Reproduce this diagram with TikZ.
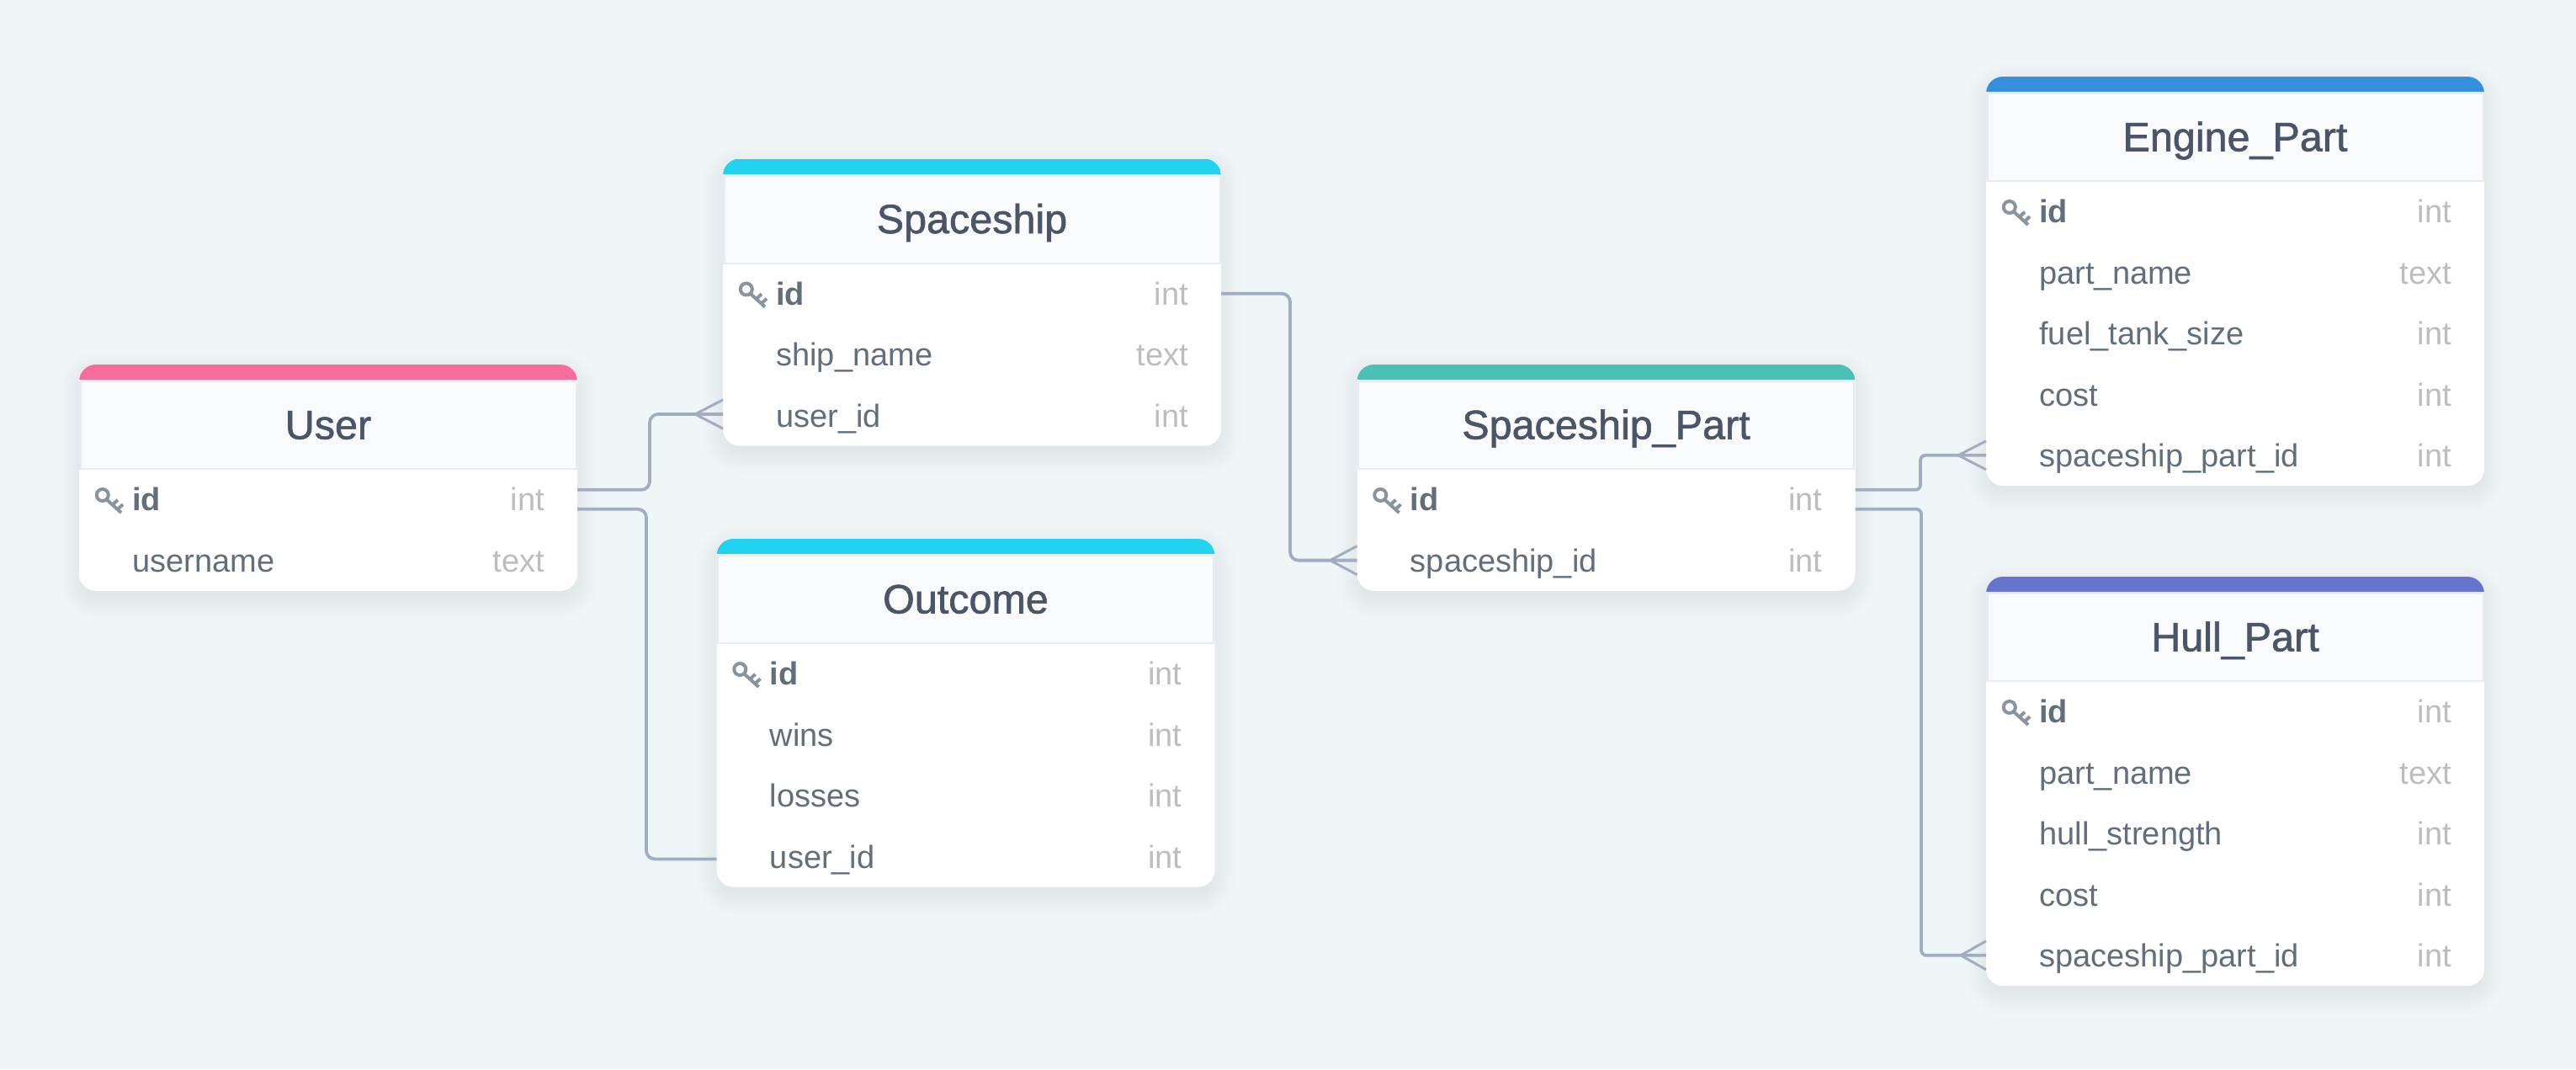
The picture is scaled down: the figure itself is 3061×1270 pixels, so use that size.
\documentclass[tikz,border=0pt]{standalone}
\usepackage{fontspec}
\setmainfont{Liberation Sans}
\newfontfamily\titlefont[FakeBold=1.3]{Liberation Sans}
\newfontfamily\idfont{Liberation Sans Bold}
\usetikzlibrary{calc}
\definecolor{pagebg}{HTML}{F0F5F8}
\definecolor{headbg}{HTML}{F8FAFC}
\definecolor{headline}{HTML}{E7ECF2}
\definecolor{titletxt}{HTML}{4A5568}
\definecolor{rowtxt}{HTML}{606F7B}
\definecolor{typetxt}{HTML}{BDBDBD}
\definecolor{keycol}{HTML}{8795A1}
\definecolor{conncol}{HTML}{A0AEC0}
\definecolor{barpink}{HTML}{F66D9B}
\definecolor{barcyan}{HTML}{22D3EF}
\definecolor{barteal}{HTML}{4DC0B5}
\definecolor{barblue}{HTML}{3490DC}
\definecolor{barindigo}{HTML}{6574CD}
\tikzset{
  cardbox/.style={fill=white,rounded corners=20pt,inner sep=0pt,outer sep=0pt,anchor=north west,minimum width=592pt},
  rowbox/.style={inner sep=0pt,outer sep=0pt,anchor=west,minimum width=592pt,minimum height=72.4pt},
  titletext/.style={inner sep=0pt,anchor=base,text=titletxt,font=\titlefont\fontsize{48.5}{50}\selectfont},
  nametext/.style={inner sep=0pt,anchor=base west,text=rowtxt,font=\fontsize{38}{40}\selectfont},
  idtext/.style={inner sep=0pt,anchor=base west,text=rowtxt,font=\idfont\fontsize{38}{40}\selectfont},
  typetext/.style={inner sep=0pt,anchor=base east,text=typetxt,font=\fontsize{38}{40}\selectfont},
  conn/.style={draw=conncol,line width=3.8pt,rounded corners=10pt},
  connsmall/.style={draw=conncol,line width=3.8pt,rounded corners=6pt},
  crow/.style={draw=conncol,line width=3pt,line join=miter},
  keyline/.style={draw=keycol,line width=4pt}
}
% \erdcard{id}{left}{top}{rows}{colour}{title}
\newcommand{\erdcard}[6]{%
  \pgfmathsetmacro{\cl}{#2}\pgfmathsetmacro{\ct}{#3}%
  \pgfmathsetmacro{\cr}{#2+592}\pgfmathsetmacro{\ch}{124+72.4*#4}%
  \pgfmathsetmacro{\cb}{#3+\ch}%
  \foreach \ex in {24,22,...,-4}{%
    \pgfmathsetmacro{\rr}{20+\ex}%
    \fill[black,opacity=0.0055,rounded corners=\rr pt] ({\cl-\ex},{\ct-\ex+9}) rectangle ({\cr+\ex},{\cb+\ex+9});
  }%
  \node[cardbox,minimum height=\ch pt] (#1) at (\cl,\ct) {};
  \begin{scope}
    \clip[rounded corners=20pt] (\cl,\ct) rectangle (\cr,\cb);
    \fill[headline] (\cl,\ct+18) rectangle (\cr,\ct+125);
    \fill[headbg] (\cl+2.5,\ct+21) rectangle (\cr-2.5,\ct+123);
    \fill[#5] (\cl,\ct) rectangle (\cr,\ct+18);
  \end{scope}
  \node[titletext] (#1-title) at (\cl+296,\ct+88.5) {#6};
}
% \erdrow{card}{rowid}{left}{top}{index}{name}{type}
\newcommand{\erdrow}[7]{%
  \pgfmathsetmacro{\ry}{#4+160.2+72.4*#5}%
  \node[rowbox] (#2) at (#3,\ry) {};
  \node[nametext] (#2-name) at (#3+63.2,\ry+13.7) {#6};
  \node[typetext] (#2-type) at (#3+553,\ry+13.7) {#7};
}
% \erdid{rowid}{left}{top}{type}
\newcommand{\erdid}[4]{%
  \pgfmathsetmacro{\ry}{#3+160.2}%
  \node[rowbox] (#1) at (#2,\ry) {};
  \node[idtext] (#1-name) at (#2+63.2,\ry+13.7) {id};
  \node[typetext] (#1-type) at (#2+553,\ry+13.7) {#4};
  \draw[keyline] (#2+27.8,\ry-5.2) circle (7);
  \draw[keyline] (#2+32.8,\ry+0.2) -- (#2+50,\ry+15.8)
                 (#2+39.5,\ry+6.5) -- (#2+46,\ry+0.6)
                 (#2+45.5,\ry+12) -- (#2+52,\ry+6);
}
\begin{document}
\begin{tikzpicture}[x=1pt,y=-1pt]
\useasboundingbox (0,0) rectangle (3061,1270);
\fill[pagebg] (0,0) rectangle (3061,1270);

% User
\erdcard{user}{94}{433}{2}{barpink}{User}
\erdid{user-id}{94}{433}{int}
\erdrow{user}{user-username}{94}{433}{1}{username}{text}
% Spaceship
\erdcard{spaceship}{859}{188.5}{3}{barcyan}{Spaceship}
\erdid{spaceship-id}{859}{188.5}{int}
\erdrow{spaceship}{spaceship-name}{859}{188.5}{1}{ship\_name}{text}
\erdrow{spaceship}{spaceship-user}{859}{188.5}{2}{user\_id}{int}
% Outcome
\erdcard{outcome}{851.5}{640}{4}{barcyan}{Outcome}
\erdid{outcome-id}{851.5}{640}{int}
\erdrow{outcome}{outcome-wins}{851.5}{640}{1}{wins}{int}
\erdrow{outcome}{outcome-losses}{851.5}{640}{2}{losses}{int}
\erdrow{outcome}{outcome-user}{851.5}{640}{3}{user\_id}{int}
% Spaceship_Part
\erdcard{part}{1612.5}{433}{2}{barteal}{Spaceship\_Part}
\erdid{part-id}{1612.5}{433}{int}
\erdrow{part}{part-ship}{1612.5}{433}{1}{spaceship\_id}{int}
% Engine_Part
\erdcard{engine}{2360}{91}{5}{barblue}{Engine\_Part}
\erdid{engine-id}{2360}{91}{int}
\erdrow{engine}{engine-name}{2360}{91}{1}{part\_name}{text}
\erdrow{engine}{engine-fuel}{2360}{91}{2}{fuel\_tank\_size}{int}
\erdrow{engine}{engine-cost}{2360}{91}{3}{cost}{int}
\erdrow{engine}{engine-part}{2360}{91}{4}{spaceship\_part\_id}{int}
% Hull_Part
\erdcard{hull}{2360}{685}{5}{barindigo}{Hull\_Part}
\erdid{hull-id}{2360}{685}{int}
\erdrow{hull}{hull-name}{2360}{685}{1}{part\_name}{text}
\erdrow{hull}{hull-strength}{2360}{685}{2}{hull\_strength}{int}
\erdrow{hull}{hull-cost}{2360}{685}{3}{cost}{int}
\erdrow{hull}{hull-part}{2360}{685}{4}{spaceship\_part\_id}{int}

% Connectors
\draw[conn] ([yshift=11.4pt]user-id.east) -- ++(86,0) |- ([yshift=1.5pt]spaceship-user.west);
\draw[conn] ([yshift=-11.6pt]user-id.east) -- ++(82,0) |- ([yshift=-3pt]outcome-user.west);
\draw[conn] (spaceship-id.east) -- ++(82,0) |- (part-ship.west);
\draw[connsmall] ([yshift=11.4pt]part-id.east) -- ++(77.5,0) |- (engine-part.west);
\draw[connsmall] ([yshift=-11.6pt]part-id.east) -- ++(78.5,0) |- (hull-part.west);

% Crow's feet
\draw[crow] ([yshift=18.5pt]spaceship-user.west) -- ([xshift=-33pt,yshift=1.5pt]spaceship-user.west) -- ([yshift=-15.5pt]spaceship-user.west);
\draw[crow] ([yshift=17pt]part-ship.west) -- ([xshift=-32pt]part-ship.west) -- ([yshift=-17pt]part-ship.west);
\draw[crow] ([yshift=17pt]engine-part.west) -- ([xshift=-33pt]engine-part.west) -- ([yshift=-17pt]engine-part.west);
\draw[crow] ([yshift=17pt]hull-part.west) -- ([xshift=-30pt]hull-part.west) -- ([yshift=-17pt]hull-part.west);
\end{tikzpicture}
\end{document}
